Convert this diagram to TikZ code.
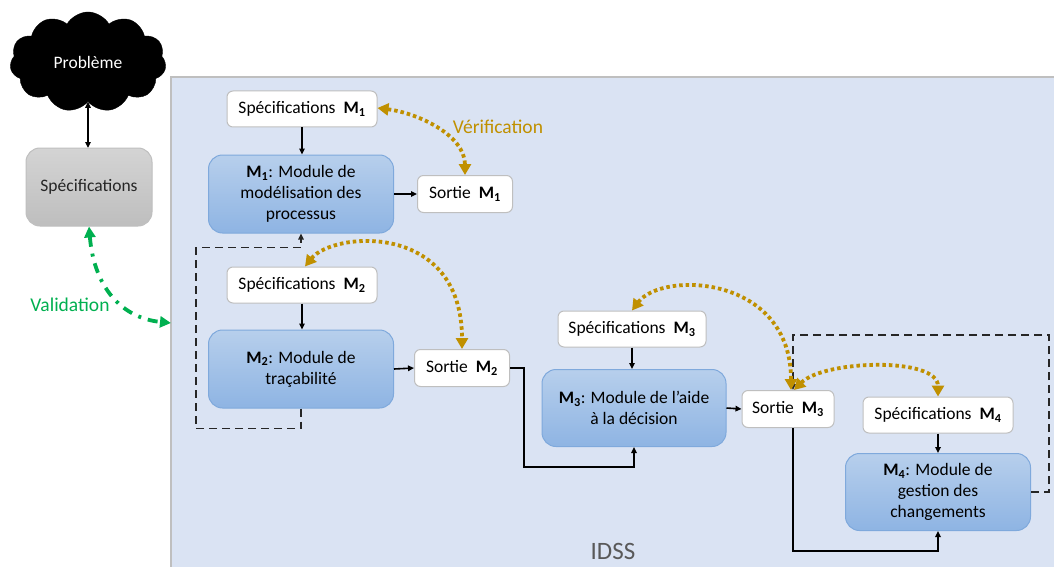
\documentclass[tikz,border=0pt]{standalone}
\usepackage{fontspec}
\setmainfont{Carlito}
\usetikzlibrary{arrows.meta,shapes.symbols,calc}
\definecolor{idssbg}{HTML}{DAE3F3}
\definecolor{idssborder}{HTML}{BFBFBF}
\definecolor{boxgray}{HTML}{BFBFBF}
\definecolor{bluetop}{HTML}{B7CFEC}
\definecolor{bluebot}{HTML}{8EB4E3}
\definecolor{blueborder}{HTML}{7FA9DC}
\definecolor{graytop}{HTML}{D4D4D4}
\definecolor{graybot}{HTML}{BEBEBE}
\definecolor{verif}{HTML}{C09000}
\definecolor{valid}{HTML}{00B050}
\definecolor{idsstext}{HTML}{595959}
\definecolor{linegray}{HTML}{262626}
\begin{document}
\begin{tikzpicture}[x=1pt,y=-1pt,
  basefont/.style={font=\fontsize{17.5}{21}\selectfont},
  whitebox/.style={basefont, draw=boxgray, fill=white, line width=1pt, rounded corners=6pt,
    minimum width=150pt, minimum height=36pt, inner sep=2pt},
  outbox/.style={whitebox, minimum width=95pt, minimum height=37pt},
  bluebox/.style={basefont, draw=blueborder, top color=bluetop, bottom color=bluebot, line width=1pt,
    rounded corners=14pt, minimum width=185pt, minimum height=78pt, align=center, inner sep=2pt},
  graybox/.style={basefont, draw=boxgray, top color=graytop, bottom color=graybot, line width=1pt,
    rounded corners=14pt, minimum width=126pt, minimum height=78pt, text=linegray},
  arr/.style={-{Triangle[length=6pt,width=5.5pt]}, line width=1.6pt, black},
  dashloop/.style={line width=1.9pt, linegray, dash pattern=on 8pt off 5pt,
    -{Triangle[length=6pt,width=5.5pt]}},
  verarrow/.style={draw=verif, line width=3.8pt, dash pattern=on 3.5pt off 3pt,
    {Triangle[length=11pt,width=12pt]}-{Triangle[length=11pt,width=12pt]}},
  valarrow/.style={draw=valid, line width=3.8pt, dash pattern=on 10pt off 7pt on 3pt off 7pt,
    {Triangle[length=11pt,width=11pt]}-{Triangle[length=11pt,width=11pt]}},
]
\useasboundingbox (0,0) rectangle (1054,567);
\fill[white] (0,0) rectangle (1054,567);

% IDSS background
\fill[idssbg] (171,77) rectangle (1054,567);
\draw[idssborder, line width=1.5pt] (171,567) -- (171,77) -- (1054,77);
\node[font=\fontsize{25}{28}\selectfont, text=idsstext] (idss) at (613,551) {IDSS};

% left side
\node[cloud, fill=black, draw=black, cloud puffs=11, cloud puff arc=120, aspect=1.6,
  minimum width=156pt, minimum height=100pt, text=white, font=\fontsize{17.5}{20}\selectfont,
  inner sep=0pt] (prob) at (88,62) {Problème};
\draw[{Triangle[length=6pt,width=5.5pt]}-{Triangle[length=6pt,width=5.5pt]}, line width=1.6pt]
  (prob.south) -- (88,148);
\node[graybox] (spec) at (89,187) {Spécifications};

% module boxes
\node[whitebox] (s1spec) at (302,109) {Spécifications\ \ \textbf{M\textsubscript{1}}};
\node[bluebox] (m1) at (301,194) {\textbf{M\textsubscript{1}}: Module de\\modélisation des\\processus};
\node[outbox] (o1) at (465,194) {Sortie\ \ \textbf{M\textsubscript{1}}};

\node[whitebox] (s2spec) at (302,285) {Spécifications\ \ \textbf{M\textsubscript{2}}};
\node[bluebox] (m2) at (301,369) {\textbf{M\textsubscript{2}}: Module de\\traçabilité};
\node[outbox] (o2) at (462,368) {Sortie\ \ \textbf{M\textsubscript{2}}};

\node[whitebox, minimum width=148pt] (s3spec) at (632,329) {Spécifications\ \ \textbf{M\textsubscript{3}}};
\node[bluebox, minimum width=184pt, minimum height=77pt] (m3) at (634,408) {\textbf{M\textsubscript{3}}: Module de l’aide\\à la décision};
\node[outbox, minimum width=92pt] (o3) at (788,409) {Sortie\ \ \textbf{M\textsubscript{3}}};

\node[whitebox] (s4spec) at (938,415) {Spécifications\ \ \textbf{M\textsubscript{4}}};
\node[bluebox, minimum height=77pt] (m4) at (938,492) {\textbf{M\textsubscript{4}}: Module de\\gestion des\\changements};

% labels
\node[font=\fontsize{19.5}{22}\selectfont, text=verif] (verlabel) at (498,127) {Vérification};
\node[font=\fontsize{19.5}{22}\selectfont, text=valid] (vallabel) at (70,305) {Validation};

% straight arrows
\draw[arr] (s1spec.south) -- (s1spec.south |- m1.north);
\draw[arr] (m1.east) -- (o1.west);
\draw[arr] (s2spec.south) -- (s2spec.south |- m2.north);
\draw[arr] (m2.east) -- (o2.west);
\draw[arr] (s3spec.south) -- (s3spec.south |- m3.north);
\draw[arr] (m3.east) -- (o3.west);
\draw[arr] (s4spec.south) -- (s4spec.south |- m4.north);

% orthogonal connectors
\draw[arr] (o2.east) -- ++(14,0) -- ++(0,99) -| (m3.south);
\draw[arr] ([xshift=5pt]o3.south) -- ++(0,123) -| (m4.south);

% dashed feedback loops
\draw[dashloop] (m2.south) -- ++(0,20) -- ++(-105,0) -- ++(0,-181) -| (m1.south);
\draw[dashloop] (m4.east) -- ++(18,0) -- ++(0,-157) -| ([xshift=5pt]o3.north);

% verification arrows
\draw[verarrow] ([yshift=1pt]s1spec.east) .. controls +(40,5) and +(0,-40) .. (o1.north);
\draw[verarrow] ([xshift=3pt]s2spec.north) .. controls +(28,-35) and +(0,-128) .. (o2.north);
\draw[verarrow] (s3spec.north) .. controls +(30,-40) and +(0,-115) .. ([xshift=3pt]o3.north);
\draw[verarrow] ([xshift=6pt]o3.north) .. controls +(30,-30) and +(0,-40) .. (s4spec.north);

% validation arrow
\draw[valarrow] (spec.south) .. controls +(5,60) and +(-50,-5) .. (171,323);
\end{tikzpicture}
\end{document}
